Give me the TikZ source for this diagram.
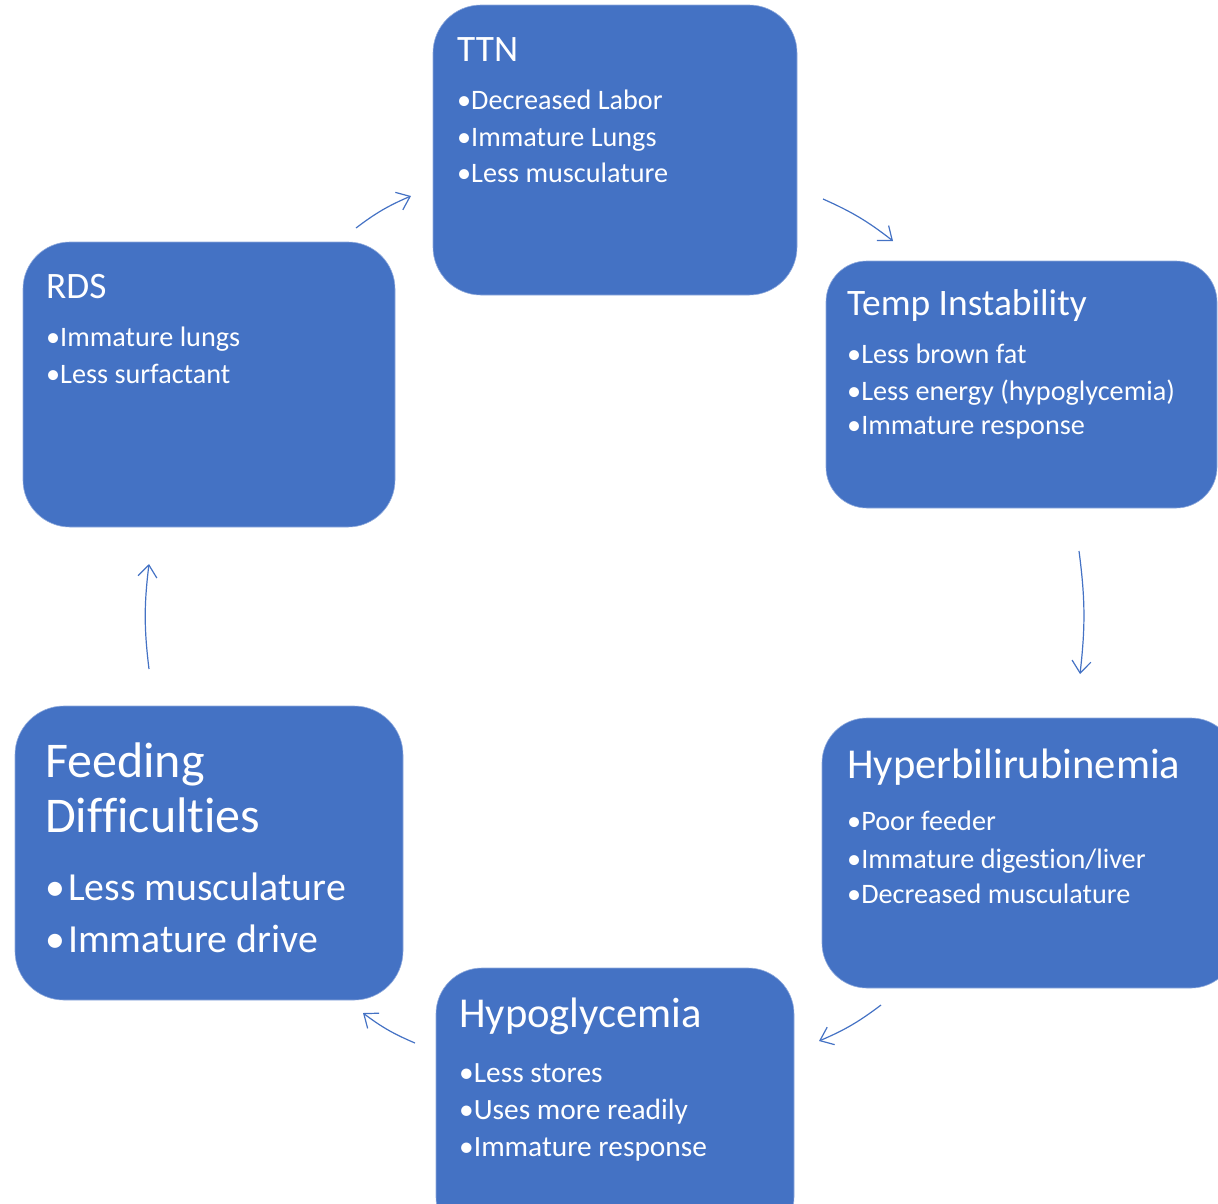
\documentclass[tikz,border=0pt]{standalone}
\usepackage{fontspec}
\setmainfont{Carlito}[Ligatures=NoCommon]
\usetikzlibrary{arrows.meta,fit}
\definecolor{boxBlue}{RGB}{68,114,196}

\begin{document}
\begin{tikzpicture}
[x=1pt,y=-1pt,
  boxDecorate/.style={fill=boxBlue,draw=boxBlue!60!white,line width=0.6pt,inner sep=0pt},
  textDecorate/.style={anchor=base west,inner sep=0pt,text=white},
  lineDecorate/.style={draw=boxBlue,line width=1.2pt,-{Straight Barb[length=12pt,width=19pt]},bend left=7}]
\useasboundingbox (0,0) rectangle (1218,1203);
\clip (0,0) rectangle (1218,1203);
%% boxes
\foreach \nodename/\xa/\ya/\xb/\yb/\r in {
  ttn/433/5/797/295/48,
  temp/826/261/1217/508/41,
  hyper/822/718/1236/988/45,
  hypo/436/968/794/1243/46,
  feed/15/706/403/1000/49,
  rds/23/242/395/527/47}
{
  \node (\nodename) [boxDecorate,rounded corners=\r pt,fit={(\xa,\ya) (\xb,\yb)}] {};
}
%% titles and bullets
\foreach \textname/\x/\y/\size/\txt in {
  ttn-t/457/61/37.3/TTN,
  ttn-1/457/109/28.2/•Decreased Labor,
  ttn-2/457/146/28.2/•Immature Lungs,
  ttn-3/457/182/28.2/•Less musculature,
  temp-t/847/315/37.4/Temp Instability,
  temp-1/847/363/28.2/•Less brown fat,
  temp-2/847/400/28.2/•Less energy (hypoglycemia),
  temp-3/847/434/28.2/•Immature response,
  hyper-t/847/778/42.6/Hyperbilirubinemia,
  hyper-1/847/830/28.2/•Poor feeder,
  hyper-2/847/868/28.2/{•Immature digestion/liver},
  hyper-3/847/903/28.2/•Decreased musculature,
  hypo-t/459/1027/42.6/Hypoglycemia,
  hypo-1/459/1082/29.4/•Less stores,
  hypo-2/459/1119/29.4/•Uses more readily,
  hypo-3/459/1156/29.4/•Immature response,
  feed-t/45/777/50/Feeding,
  feed-u/45/832/50/Difficulties,
  feed-1/45/900/39.8/•\kern3pt Less musculature,
  feed-2/45/952/39.8/•\kern3pt Immature drive,
  rds-t/46/298/37.3/RDS,
  rds-1/46/346/28.2/•Immature lungs,
  rds-2/46/383/28.2/•Less surfactant}
{
  \node (\textname) [textDecorate,font=\fontsize{\size}{\size}\selectfont] at (\x,\y) {\txt};
}
%% arrow ends
\coordinate (a1s) at (356,228);  \coordinate (a1e) at (411,196);
\coordinate (a2s) at (823,199);  \coordinate (a2e) at (893,241);
\coordinate (a3s) at (1079,551); \coordinate (a3e) at (1080,674);
\coordinate (a4s) at (881,1005); \coordinate (a4e) at (819,1041);
\coordinate (a5s) at (415,1043); \coordinate (a5e) at (363,1013);
\coordinate (a6s) at (149,669);  \coordinate (a6e) at (149,564);
%% cycle arrows
\path
\foreach \startnode/\endnode in {a1s/a1e, a2s/a2e, a3s/a3e, a4s/a4e, a5s/a5e, a6s/a6e}
{
  (\startnode) edge[lineDecorate] (\endnode)
};
\end{tikzpicture}
\end{document}
